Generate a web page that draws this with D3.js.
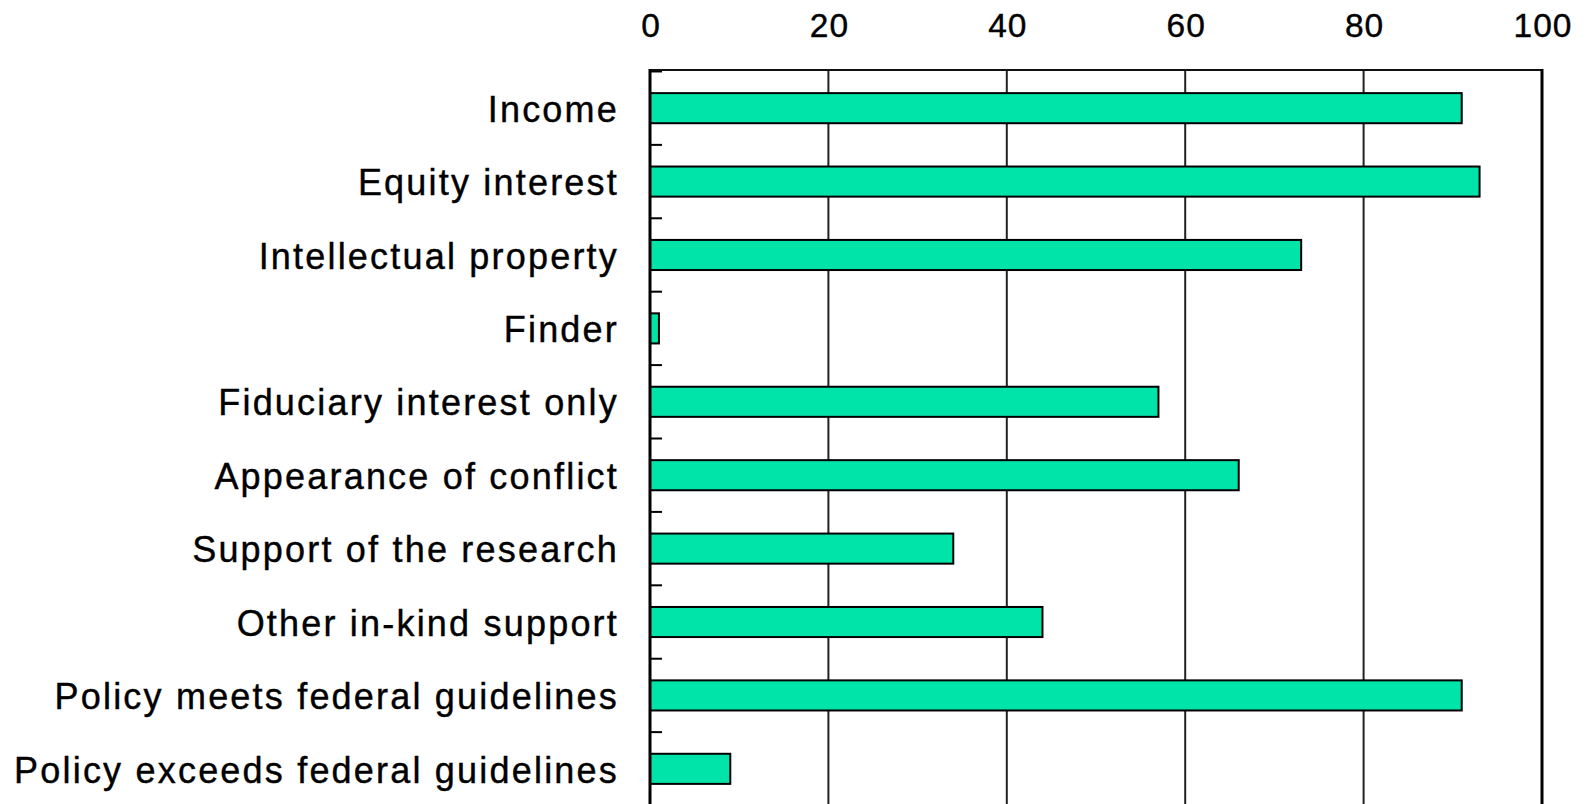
<html>

<head>
    <script src="https://cdn.jsdelivr.net/npm/d3@7"></script>
    <style>
        body {
            margin: 0;
            background: #fff;
        }

        text {
            font-family: "Liberation Sans", Arial, sans-serif;
            fill: #000;
            stroke: #000;
            stroke-width: 0.4px;
        }
    </style>
</head>

<body>
    <script>
        var categories = [
            'Income',
            'Equity interest',
            'Intellectual property',
            'Finder',
            'Fiduciary interest only',
            'Appearance of conflict',
            'Support of the research',
            'Other in-kind support',
            'Policy meets federal guidelines',
            'Policy exceeds federal guidelines'
        ];
        var percents = [91, 93, 73, 1, 57, 66, 34, 44, 91, 9];
        var tickValues = [0, 20, 40, 60, 80, 100];

        var w = 1586, h = 804;
        var plotLeft = 650, plotRight = 1542, plotTop = 70, plotBottom = 804;

        var data = categories.map((c, i) => { return { name: c, percent: percents[i] } });

        var x = d3.scaleLinear()
            .domain([0, 100])
            .range([plotLeft, plotRight]);

        // last band runs a bit past the bottom edge of the picture
        var y = d3.scaleBand()
            .domain(categories)
            .range([plotTop, plotBottom + 3])
            .paddingInner(0.59)
            .paddingOuter(0.315);

        var svg = d3.select('body')
            .append('svg')
            .attr('width', w)
            .attr('height', h);

        // grid lines
        svg.append('g')
            .selectAll('line')
            .data(tickValues.slice(1, -1))
            .enter()
            .append('line')
            .attr('x1', d => x(d)).attr('x2', d => x(d))
            .attr('y1', plotTop).attr('y2', plotBottom)
            .attr('stroke', '#222')
            .attr('stroke-width', 2);

        // frame: top and right
        svg.append('line')
            .attr('x1', plotLeft).attr('x2', plotRight)
            .attr('y1', plotTop).attr('y2', plotTop)
            .attr('stroke', '#111').attr('stroke-width', 2);
        svg.append('line')
            .attr('x1', plotRight).attr('x2', plotRight)
            .attr('y1', plotTop - 1).attr('y2', plotBottom)
            .attr('stroke', '#000').attr('stroke-width', 3);

        // top axis labels
        var xAxis = d3.axisTop(x)
            .tickValues(tickValues)
            .tickSize(0)
            .tickPadding(0);

        var gx = svg.append('g')
            .attr('transform', 'translate(0,37)')
            .call(xAxis);
        gx.select('.domain').remove();
        gx.selectAll('text')
            .attr('font-family', '"Liberation Sans", Arial, sans-serif')
            .style('font-size', '33.5px')
            .style('letter-spacing', '1px')
            .attr('dy', 0)
            .attr('dx', '0.5px');

        // bars
        svg.append('g')
            .selectAll('rect')
            .data(data)
            .enter()
            .append('rect')
            .attr('x', x(0))
            .attr('y', d => y(d.name))
            .attr('width', d => x(d.percent) - x(0))
            .attr('height', y.bandwidth())
            .attr('fill', '#00e4aa')
            .attr('stroke', '#000')
            .attr('stroke-width', 2);

        // left axis with ticks between categories
        var gap = (y.step() - y.bandwidth()) / 2;
        svg.append('g')
            .selectAll('line')
            .data(categories)
            .enter()
            .append('line')
            .attr('x1', plotLeft).attr('x2', plotLeft + 12)
            .attr('y1', d => y(d) - gap).attr('y2', d => y(d) - gap)
            .attr('stroke', '#000').attr('stroke-width', 2);
        svg.append('line')
            .attr('x1', plotLeft).attr('x2', plotLeft)
            .attr('y1', plotTop - 1).attr('y2', plotBottom)
            .attr('stroke', '#000').attr('stroke-width', 3);

        // category labels
        svg.append('g')
            .selectAll('text')
            .data(categories)
            .enter()
            .append('text')
            .attr('x', 619)
            .attr('y', d => y(d) + y.bandwidth() / 2)
            .attr('dy', '0.38em')
            .attr('text-anchor', 'end')
            .style('font-size', '36px')
            .style('letter-spacing', '2.2px')
            .text(d => d);
    </script>
</body>

</html>
